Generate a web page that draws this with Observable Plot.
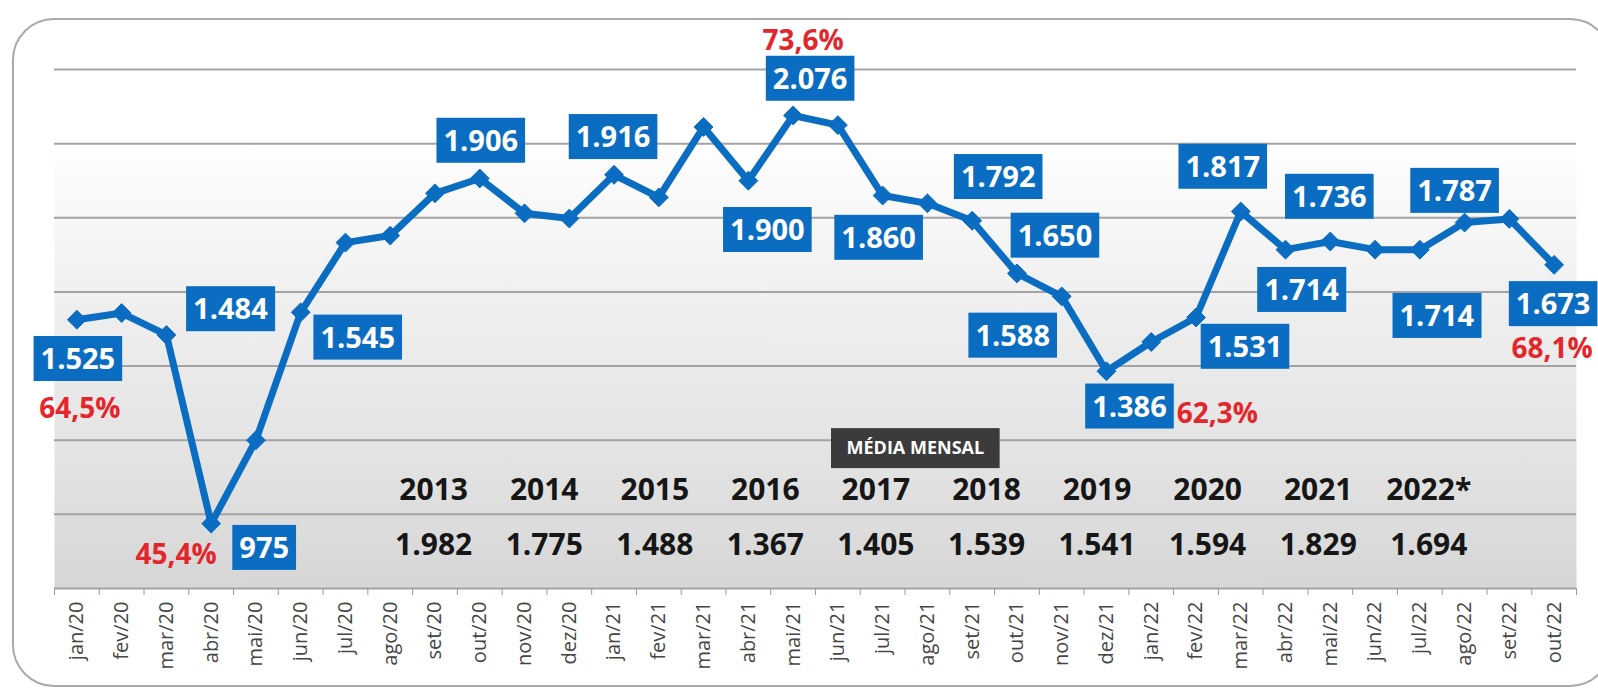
<!DOCTYPE html>
<html><head><meta charset="utf-8">
<script src="https://cdn.jsdelivr.net/npm/d3@7"></script>
<script src="https://cdn.jsdelivr.net/npm/@observablehq/plot@0.6"></script>
<style>
html,body{margin:0;padding:0;background:#fff;}
#wrap{position:relative;width:1598px;height:692px;overflow:hidden;background:#fff;}
#wrap svg{position:absolute;left:0;top:0;}
#frame{position:absolute;left:12px;top:18px;width:1600px;height:669px;border:2px solid #a9a9a9;border-radius:42px;box-sizing:border-box;pointer-events:none;}
</style></head><body><div id="wrap"></div>
<script>
// ---- data ----
const months = ["jan/20","fev/20","mar/20","abr/20","mai/20","jun/20","jul/20","ago/20","set/20","out/20","nov/20","dez/20",
  "jan/21","fev/21","mar/21","abr/21","mai/21","jun/21","jul/21","ago/21","set/21","out/21","nov/21","dez/21",
  "jan/22","fev/22","mar/22","abr/22","mai/22","jun/22","jul/22","ago/22","set/22","out/22"];
const values = [1525,1543,1484,975,1200,1545,1733,1752,1866,1906,1812,1798,
  1916,1855,2045,1900,2076,2050,1860,1839,1792,1650,1588,1386,
  1465,1531,1817,1714,1736,1714,1714,1787,1797,1673];
const labelMonths = ["jan/20","mar/20","abr/20","jun/20","out/20","jan/21","abr/21","mai/21","jul/21","set/21","out/21","nov/21","dez/21","fev/22","mar/22","abr/22","mai/22","jul/22","ago/22","out/22"];
const labelTexts = ["1.525","1.484","975","1.545","1.906","1.916","1.900","2.076","1.860","1.792","1.650","1.588","1.386","1.531","1.817","1.714","1.736","1.714","1.787","1.673"];
const pctMonths = ["jan/20","abr/20","mai/21","dez/21","out/22"];
const pctTexts = ["64,5%","45,4%","73,6%","62,3%","68,1%"];
const years = ["2013","2014","2015","2016","2017","2018","2019","2020","2021","2022*"];
const yearAvg = ["1.982","1.775","1.488","1.367","1.405","1.539","1.541","1.594","1.829","1.694"];
const tableTitle = "MÉDIA MENSAL";
const yTicks = [800,1000,1200,1400,1600,1800,2000,2200];

// ---- layout (label placement offsets in px) ----
const labelOffsets = [[1,40],[64,-25],[53,25],[57,26],[1,-37],[-1,-37],[19,50],[17,-36],[-4,43],[26,-43],[38,-37],[-49,40],[23,36],[49,30],[-18,-44],[16,41],[-1,-44],[17,67],[-10,-31],[-1,40]];
const pctOffsets = [[3,89],[-35,31],[10,-74],[111,43],[-2,84]];

const blue = "#0b6dc1";
const red = "#e3262b";
const data = months.map((m, i) => ({i, m, v: values[i]}));
const idx = m => months.indexOf(m);

const labelMarks = labelMonths.map((m, k) => Plot.text([{i: idx(m), v: values[idx(m)], t: labelTexts[k]}], {
  x: "i", y: "v", text: "t", dx: labelOffsets[k][0], dy: labelOffsets[k][1],
  fill: "white", fontWeight: "bold", fontSize: 29, ariaDescription: "bluebox"
}));
const pctMarks = pctMonths.map((m, k) => Plot.text([{i: idx(m), v: values[idx(m)], t: pctTexts[k]}], {
  x: "i", y: "v", text: "t", dx: pctOffsets[k][0], dy: pctOffsets[k][1],
  fill: red, fontWeight: "bold", fontSize: 28
}));
const tableRows = years.map((y, k) => ({k, y, a: yearAvg[k]}));

const svg = Plot.plot({
  width: 1598, height: 692,
  marginLeft: 54, marginRight: 22, marginTop: 69, marginBottom: 104,
  style: {fontFamily: "'Open Sans', sans-serif", background: "transparent", overflow: "visible"},
  x: {type: "linear", domain: [-0.5, months.length - 0.5], axis: null},
  y: {domain: [800, 2200], axis: null},
  marks: [
    Plot.frame({fill: "url(#bggrad)", stroke: "none"}),
    Plot.ruleY(yTicks.slice(1), {stroke: "#a3a3a3", strokeWidth: 2}),
    Plot.ruleY([800], {stroke: "#a3a3a3", strokeWidth: 2}),
    Plot.axisX(d3.range(months.length + 1).map(i => i - 0.5), {tickSize: 7, tickFormat: () => "", stroke: "#9a9a9a", label: null}),
    Plot.axisX(d3.range(months.length), {tickSize: 0, tickPadding: 13, tickRotate: -90, tickFormat: i => months[i], fontSize: 20, fill: "#454545", label: null}),
    Plot.text(tableRows, {x: d => 7.97 + d.k * 2.47, y: 1064, text: "y", fontWeight: "bold", fontSize: 30, fill: "#161616"}),
    Plot.text(tableRows, {x: d => 7.97 + d.k * 2.47, y: 916, text: "a", fontWeight: "bold", fontSize: 30, fill: "#161616"}),
    Plot.text([tableTitle], {x: 18.73, y: 1178, text: d => d, fill: "white", fontWeight: "bold", fontSize: 18, ariaDescription: "darkbox"}),
    Plot.line(data, {x: "i", y: "v", stroke: blue, strokeWidth: 7, strokeLinejoin: "round"}),
    Plot.dot(data, {x: "i", y: "v", symbol: "diamond2", r: 8.5, fill: blue, stroke: blue, strokeWidth: 1}),
    ...labelMarks,
    ...pctMarks
  ]
});

document.getElementById("wrap").append(svg);
const fr = document.createElement("div"); fr.id = "frame";
document.getElementById("wrap").append(fr);

// gradient background definition
const defs = d3.select(svg).insert("defs", ":first-child");
const lg = defs.append("linearGradient").attr("id", "bggrad").attr("x1", 0).attr("y1", 0).attr("x2", 0).attr("y2", 1);
[[0, "#ffffff"], [0.12, "#ffffff"], [0.45, "#efefef"], [0.75, "#e3e3e3"], [1, "#d6d6d6"]].forEach(([o, c]) =>
  lg.append("stop").attr("offset", o).attr("stop-color", c));

function boxify(label, fill, padX, h) {
  d3.select(svg).selectAll(`g[aria-description="${label}"] text`).each(function () {
    const b = this.getBBox();
    const cy = b.y + b.height / 2 + 1;
    const node = this;
    const r = d3.select(this.parentNode).insert("rect", () => node)
      .attr("x", b.x - padX).attr("y", cy - h / 2)
      .attr("width", b.width + 2 * padX).attr("height", h)
      .attr("fill", fill);
    const t = this.getAttribute("transform");
    if (t) r.attr("transform", t);
  });
}
boxify("bluebox", blue, 7, 45);
boxify("darkbox", "#3b3b3b", 15.5, 40);
</script></body></html>
